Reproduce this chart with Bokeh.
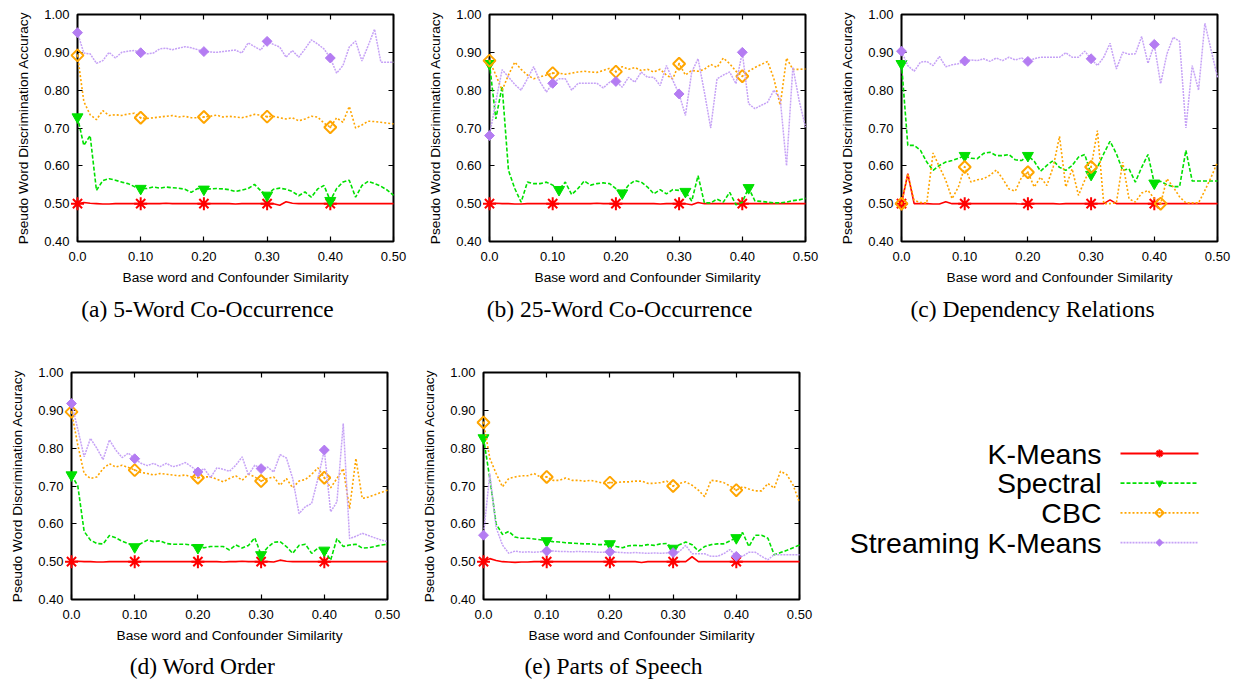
import math
from bokeh.plotting import figure
from bokeh.layouts import row, column
from bokeh.models import Range1d, FixedTicker, LinearAxis, CustomJSTickFormatter
from bokeh.core.properties import value
from bokeh.embed import file_html
from bokeh.resources import INLINE

# ---------------- data ----------------
X = [0.00, 0.01, 0.02, 0.03, 0.04, 0.05, 0.06, 0.07, 0.08, 0.09,
     0.10, 0.11, 0.12, 0.13, 0.14, 0.15, 0.16, 0.17, 0.18, 0.19,
     0.20, 0.21, 0.22, 0.23, 0.24, 0.25, 0.26, 0.27, 0.28, 0.29,
     0.30, 0.31, 0.32, 0.33, 0.34, 0.35, 0.36, 0.37, 0.38, 0.39,
     0.40, 0.41, 0.42, 0.43, 0.44, 0.45, 0.46, 0.47, 0.48, 0.49, 0.50]

X_TICKS = [0.0, 0.1, 0.2, 0.3, 0.4, 0.5]
X_TICK_LABELS = ["0.0", "0.10", "0.20", "0.30", "0.40", "0.50"]
Y_TICKS = [0.4, 0.5, 0.6, 0.7, 0.8, 0.9, 1.0]
Y_TICK_LABELS = ["0.40", "0.50", "0.60", "0.70", "0.80", "0.90", "1.00"]

SERIES = ["K-Means", "Spectral", "CBC", "Streaming K-Means"]
CAPTIONS = ["(a) 5-Word Co-Occurrence", "(b) 25-Word Co-Occurrence", "(c) Dependency Relations",
            "(d) Word Order", "(e) Parts of Speech"]
X_LABEL = "Base word and Confounder Similarity"
Y_LABEL = "Pseudo Word Discrimination Accuracy"

# (a) 5-Word Co-Occurrence
A_KM = [0.500, 0.503, 0.501, 0.500, 0.499, 0.499, 0.500, 0.500, 0.500, 0.500,
        0.500, 0.500, 0.500, 0.500, 0.501, 0.500, 0.500, 0.500, 0.500, 0.500,
        0.500, 0.500, 0.500, 0.500, 0.500, 0.499, 0.500, 0.500, 0.500, 0.500,
        0.500, 0.500, 0.496, 0.505, 0.501, 0.500, 0.500, 0.500, 0.500, 0.500,
        0.500, 0.500, 0.500, 0.500, 0.500, 0.500, 0.500, 0.500, 0.500, 0.500, 0.500]
A_SP = [0.729, 0.654, 0.680, 0.535, 0.561, 0.566, 0.562, 0.557, 0.553, 0.545,
        0.540, 0.540, 0.544, 0.541, 0.544, 0.542, 0.541, 0.538, 0.530, 0.540,
        0.538, 0.539, 0.540, 0.539, 0.537, 0.532, 0.536, 0.540, 0.551, 0.534,
        0.522, 0.538, 0.541, 0.538, 0.532, 0.521, 0.531, 0.517, 0.539, 0.548,
        0.508, 0.540, 0.557, 0.562, 0.517, 0.548, 0.559, 0.553, 0.546, 0.536, 0.522]
A_CBC = [0.892, 0.770, 0.735, 0.722, 0.746, 0.733, 0.735, 0.733, 0.737, 0.739,
         0.727, 0.725, 0.727, 0.729, 0.731, 0.733, 0.729, 0.731, 0.727, 0.727,
         0.729, 0.731, 0.734, 0.729, 0.731, 0.729, 0.727, 0.731, 0.736, 0.734,
         0.730, 0.731, 0.727, 0.724, 0.727, 0.719, 0.724, 0.731, 0.729, 0.713,
         0.702, 0.727, 0.715, 0.757, 0.700, 0.708, 0.718, 0.717, 0.715, 0.713, 0.711]
A_SKM = [0.952, 0.898, 0.896, 0.871, 0.878, 0.900, 0.885, 0.900, 0.903, 0.905,
         0.899, 0.896, 0.898, 0.909, 0.911, 0.907, 0.911, 0.915, 0.912, 0.907,
         0.902, 0.901, 0.900, 0.902, 0.904, 0.906, 0.898, 0.925, 0.915, 0.906,
         0.929, 0.921, 0.914, 0.887, 0.905, 0.887, 0.909, 0.933, 0.922, 0.909,
         0.885, 0.845, 0.865, 0.914, 0.930, 0.877, 0.918, 0.961, 0.874, 0.874, 0.874]

# (b) 25-Word Co-Occurrence
B_KM = [0.500, 0.501, 0.500, 0.500, 0.499, 0.499, 0.500, 0.500, 0.500, 0.500,
        0.500, 0.500, 0.500, 0.500, 0.500, 0.500, 0.500, 0.501, 0.500, 0.500,
        0.500, 0.500, 0.500, 0.500, 0.500, 0.500, 0.500, 0.499, 0.500, 0.500,
        0.500, 0.500, 0.497, 0.503, 0.500, 0.500, 0.500, 0.500, 0.500, 0.500,
        0.500, 0.500, 0.500, 0.500, 0.500, 0.500, 0.500, 0.500, 0.500, 0.500, 0.500]
B_SP = [0.870, 0.724, 0.810, 0.588, 0.540, 0.504, 0.557, 0.553, 0.553, 0.557,
        0.549, 0.537, 0.557, 0.524, 0.540, 0.560, 0.549, 0.553, 0.555, 0.553,
        0.540, 0.528, 0.549, 0.561, 0.557, 0.544, 0.526, 0.537, 0.526, 0.537,
        0.535, 0.532, 0.507, 0.574, 0.502, 0.502, 0.512, 0.504, 0.530, 0.497,
        0.504, 0.542, 0.507, 0.506, 0.504, 0.502, 0.502, 0.504, 0.508, 0.510, 0.514]
B_CBC = [0.878, 0.840, 0.800, 0.840, 0.874, 0.855, 0.840, 0.830, 0.835, 0.840,
         0.845, 0.845, 0.842, 0.845, 0.848, 0.850, 0.848, 0.847, 0.852, 0.858,
         0.849, 0.862, 0.855, 0.860, 0.852, 0.855, 0.848, 0.855, 0.840, 0.830,
         0.870, 0.840, 0.852, 0.850, 0.855, 0.868, 0.860, 0.885, 0.870, 0.850,
         0.837, 0.850, 0.860, 0.868, 0.876, 0.830, 0.760, 0.885, 0.855, 0.855, 0.856]
B_SKM = [0.680, 0.770, 0.854, 0.835, 0.815, 0.800, 0.830, 0.862, 0.822, 0.795,
         0.818, 0.830, 0.830, 0.800, 0.818, 0.818, 0.818, 0.818, 0.806, 0.821,
         0.823, 0.808, 0.834, 0.821, 0.848, 0.834, 0.834, 0.812, 0.865, 0.826,
         0.790, 0.733, 0.848, 0.883, 0.795, 0.700, 0.830, 0.840, 0.848, 0.817,
         0.900, 0.764, 0.751, 0.760, 0.768, 0.800, 0.777, 0.600, 0.861, 0.772, 0.702]

# (c) Dependency Relations
C_KM = [0.500, 0.579, 0.500, 0.500, 0.500, 0.499, 0.499, 0.505, 0.500, 0.500,
        0.500, 0.500, 0.500, 0.500, 0.500, 0.500, 0.500, 0.500, 0.500, 0.499,
        0.500, 0.500, 0.500, 0.500, 0.500, 0.499, 0.500, 0.500, 0.500, 0.500,
        0.500, 0.500, 0.500, 0.510, 0.500, 0.500, 0.500, 0.500, 0.500, 0.500,
        0.500, 0.500, 0.500, 0.500, 0.500, 0.500, 0.500, 0.500, 0.500, 0.500, 0.500]
C_SP = [0.870, 0.654, 0.654, 0.641, 0.610, 0.588, 0.601, 0.610, 0.614, 0.620,
        0.627, 0.620, 0.619, 0.633, 0.636, 0.627, 0.627, 0.630, 0.616, 0.614,
        0.627, 0.612, 0.586, 0.601, 0.614, 0.596, 0.588, 0.601, 0.623, 0.630,
        0.577, 0.596, 0.632, 0.665, 0.632, 0.588, 0.592, 0.557, 0.596, 0.630,
        0.554, 0.559, 0.550, 0.545, 0.545, 0.641, 0.560, 0.560, 0.560, 0.560, 0.560]
C_CBC = [0.500, 0.579, 0.509, 0.503, 0.502, 0.634, 0.597, 0.562, 0.513, 0.544,
         0.597, 0.557, 0.563, 0.566, 0.575, 0.589, 0.566, 0.539, 0.533, 0.570,
         0.583, 0.544, 0.570, 0.548, 0.597, 0.678, 0.544, 0.592, 0.522, 0.562,
         0.597, 0.693, 0.500, 0.500, 0.502, 0.610, 0.513, 0.504, 0.528, 0.535,
         0.513, 0.500, 0.566, 0.544, 0.518, 0.502, 0.502, 0.502, 0.535, 0.570, 0.610]
C_SKM = [0.903, 0.865, 0.850, 0.874, 0.876, 0.865, 0.889, 0.862, 0.867, 0.870,
         0.877, 0.880, 0.878, 0.883, 0.876, 0.885, 0.878, 0.887, 0.880, 0.885,
         0.876, 0.883, 0.887, 0.887, 0.887, 0.887, 0.899, 0.887, 0.887, 0.903,
         0.883, 0.865, 0.887, 0.924, 0.856, 0.900, 0.895, 0.896, 0.942, 0.871,
         0.921, 0.817, 0.896, 0.940, 0.929, 0.700, 0.865, 0.800, 0.977, 0.905, 0.834]

# (d) Word Order
D_KM = [0.500, 0.501, 0.500, 0.500, 0.499, 0.499, 0.500, 0.500, 0.500, 0.500,
        0.500, 0.500, 0.500, 0.500, 0.500, 0.500, 0.500, 0.500, 0.500, 0.500,
        0.500, 0.500, 0.500, 0.500, 0.499, 0.500, 0.500, 0.501, 0.500, 0.500,
        0.500, 0.500, 0.499, 0.504, 0.501, 0.500, 0.500, 0.500, 0.500, 0.500,
        0.500, 0.500, 0.500, 0.500, 0.500, 0.500, 0.500, 0.500, 0.500, 0.500, 0.500]
D_SP = [0.729, 0.700, 0.580, 0.557, 0.548, 0.547, 0.569, 0.563, 0.554, 0.548,
        0.539, 0.548, 0.557, 0.553, 0.555, 0.548, 0.546, 0.546, 0.546, 0.544,
        0.537, 0.537, 0.540, 0.540, 0.540, 0.531, 0.544, 0.536, 0.543, 0.563,
        0.518, 0.537, 0.551, 0.553, 0.540, 0.522, 0.543, 0.546, 0.522, 0.536,
        0.530, 0.504, 0.561, 0.540, 0.544, 0.546, 0.536, 0.537, 0.540, 0.544, 0.546]
D_CBC = [0.896, 0.808, 0.733, 0.720, 0.724, 0.746, 0.759, 0.750, 0.755, 0.749,
         0.742, 0.736, 0.733, 0.729, 0.733, 0.731, 0.729, 0.727, 0.729, 0.724,
         0.722, 0.724, 0.724, 0.718, 0.711, 0.720, 0.727, 0.715, 0.731, 0.724,
         0.713, 0.720, 0.724, 0.702, 0.720, 0.695, 0.713, 0.717, 0.731, 0.748,
         0.722, 0.695, 0.720, 0.746, 0.640, 0.773, 0.667, 0.671, 0.677, 0.683, 0.689]
D_SKM = [0.918, 0.850, 0.777, 0.826, 0.800, 0.770, 0.822, 0.795, 0.775, 0.787,
         0.772, 0.760, 0.754, 0.760, 0.751, 0.760, 0.751, 0.755, 0.762, 0.751,
         0.737, 0.746, 0.722, 0.748, 0.744, 0.739, 0.755, 0.777, 0.729, 0.755,
         0.746, 0.750, 0.737, 0.783, 0.774, 0.720, 0.627, 0.645, 0.654, 0.720,
         0.795, 0.632, 0.658, 0.865, 0.561, 0.567, 0.575, 0.569, 0.563, 0.557, 0.553]

# (e) Parts of Speech
E_KM = [0.500, 0.508, 0.503, 0.500, 0.499, 0.498, 0.499, 0.499, 0.500, 0.500,
        0.500, 0.500, 0.500, 0.500, 0.500, 0.500, 0.500, 0.500, 0.500, 0.500,
        0.500, 0.500, 0.500, 0.500, 0.500, 0.498, 0.500, 0.500, 0.500, 0.500,
        0.500, 0.500, 0.500, 0.513, 0.500, 0.500, 0.500, 0.500, 0.500, 0.500,
        0.500, 0.500, 0.500, 0.500, 0.500, 0.500, 0.500, 0.500, 0.500, 0.500, 0.500]
E_SP = [0.827, 0.720, 0.600, 0.572, 0.580, 0.565, 0.562, 0.562, 0.560, 0.558,
        0.555, 0.553, 0.552, 0.550, 0.549, 0.548, 0.547, 0.547, 0.545, 0.545,
        0.547, 0.540, 0.537, 0.542, 0.543, 0.542, 0.545, 0.543, 0.547, 0.548,
        0.535, 0.545, 0.552, 0.545, 0.528, 0.540, 0.545, 0.547, 0.547, 0.555,
        0.563, 0.577, 0.540, 0.570, 0.570, 0.562, 0.518, 0.524, 0.530, 0.537, 0.544]
E_CBC = [0.868, 0.773, 0.733, 0.698, 0.720, 0.724, 0.727, 0.727, 0.733, 0.724,
         0.724, 0.715, 0.715, 0.721, 0.715, 0.715, 0.713, 0.715, 0.711, 0.707,
         0.709, 0.709, 0.711, 0.711, 0.713, 0.713, 0.707, 0.707, 0.709, 0.713,
         0.700, 0.707, 0.711, 0.702, 0.689, 0.672, 0.715, 0.713, 0.709, 0.700,
         0.689, 0.698, 0.692, 0.687, 0.687, 0.707, 0.694, 0.739, 0.730, 0.702, 0.656]
E_SKM = [0.570, 0.733, 0.590, 0.544, 0.522, 0.528, 0.525, 0.526, 0.525, 0.526,
         0.528, 0.528, 0.527, 0.527, 0.526, 0.527, 0.526, 0.526, 0.525, 0.525,
         0.526, 0.525, 0.524, 0.523, 0.524, 0.523, 0.522, 0.523, 0.522, 0.523,
         0.524, 0.527, 0.543, 0.521, 0.521, 0.521, 0.514, 0.514, 0.521, 0.532,
         0.514, 0.514, 0.525, 0.525, 0.514, 0.505, 0.519, 0.518, 0.518, 0.518, 0.518]

# indices of the data points that carry a point symbol
PTS = [0, 10, 20, 30, 40]
PTS_B_SP = [0, 11, 21, 31, 41]
PTS_C_CBC = [0, 10, 20, 30, 41]

PANELS = [
    [(A_KM, PTS), (A_SP, PTS), (A_CBC, PTS), (A_SKM, PTS)],
    [(B_KM, PTS), (B_SP, PTS_B_SP), (B_CBC, PTS), (B_SKM, PTS)],
    [(C_KM, PTS), (C_SP, PTS), (C_CBC, PTS_C_CBC), (C_SKM, PTS)],
    [(D_KM, PTS), (D_SP, PTS), (D_CBC, PTS), (D_SKM, PTS)],
    [(E_KM, PTS), (E_SP, PTS), (E_CBC, PTS), (E_SKM, PTS)],
]

# ---------------- styles ----------------
STYLES = [
    dict(line_color="#ff0000", line_dash="solid", line_width=1.6,
         marker="asterisk", size=13, mline="#ff0000", mfill=None, mlw=2.0, angle=0.0, lsize=8),
    dict(line_color="#00e000", line_dash="4 2", line_width=1.6,
         marker="inverted_triangle", size=11, mline="#00e000", mfill="#00e000", mlw=1.0, angle=0.0, lsize=7),
    dict(line_color="#ffa500", line_dash="2 2", line_width=1.6,
         marker="square_dot", size=8.5, mline="#ffa500", mfill=None, mlw=2.0, angle=math.pi / 4, lsize=6),
    dict(line_color="#c6a2f6", line_dash="2 1", line_width=1.5,
         marker="square", size=7, mline="#b47cf2", mfill="#b47cf2", mlw=1.0, angle=math.pi / 4, lsize=5),
]

SANS = "Liberation Sans"
SERIF = "Liberation Serif"


def tick_formatter(tick_values, tick_labels):
    return CustomJSTickFormatter(
        args=dict(tv=tick_values, tl=tick_labels),
        code="const i = tv.findIndex(t => Math.abs(t - tick) < 1e-9); return i >= 0 ? tl[i] : '';")


def mirror_axis(tick_values):
    return LinearAxis(ticker=FixedTicker(ticks=tick_values), major_tick_in=5, major_tick_out=0,
                      major_tick_line_color="black", major_tick_line_width=1.2,
                      minor_tick_line_color=None, axis_line_color=None,
                      major_label_text_font_size="1px", major_label_text_color=None,
                      major_label_standoff=0)


def make_panel(k, width, height, left, right, top, bottom, cap_dx, cap_dy):
    p = figure(width=width, height=height, x_range=Range1d(0, 0.5), y_range=Range1d(0.4, 1.0),
               output_backend="svg", toolbar_location=None,
               min_border_left=left, min_border_right=right, min_border_top=top, min_border_bottom=bottom)
    p.grid.visible = False
    p.outline_line_color = "black"
    p.outline_line_width = 2
    p.background_fill_color = "white"
    p.border_fill_color = "white"

    for ax, tv, tl, lab in ((p.xaxis[0], X_TICKS, X_TICK_LABELS, X_LABEL),
                            (p.yaxis[0], Y_TICKS, Y_TICK_LABELS, Y_LABEL)):
        ax.ticker = FixedTicker(ticks=tv)
        ax.formatter = tick_formatter(tv, tl)
        ax.major_tick_in = 5
        ax.major_tick_out = 0
        ax.major_tick_line_color = "black"
        ax.major_tick_line_width = 1.2
        ax.minor_tick_line_color = None
        ax.axis_line_color = None
        ax.major_label_text_font = SANS
        ax.major_label_text_font_size = "13px"
        ax.major_label_text_color = "black"
        ax.axis_label = lab
        ax.axis_label_text_font = SANS
        ax.axis_label_text_font_size = "13.7px"
        ax.axis_label_text_font_style = "normal"
        ax.axis_label_text_color = "black"
    p.xaxis.major_label_standoff = 10
    p.xaxis.axis_label_standoff = 6
    p.yaxis.major_label_standoff = 8
    p.yaxis.axis_label_standoff = 10

    p.add_layout(mirror_axis(X_TICKS), "above")
    p.add_layout(mirror_axis(Y_TICKS), "right")

    for (vals, pts), st in zip(PANELS[k], STYLES):
        p.line(X, vals, line_color=st["line_color"], line_dash=st["line_dash"],
               line_width=st["line_width"], level="overlay")
        p.scatter([X[i] for i in pts], [vals[i] for i in pts], marker=st["marker"], size=st["size"],
                  angle=st["angle"], line_color=st["mline"], fill_color=st["mfill"],
                  line_width=st["mlw"], level="overlay")

    # sub-figure caption, placed under the x axis (overlay level: not clipped to the frame)
    p.text(x=[0.25], y=[0.4], text=[CAPTIONS[k]], x_offset=cap_dx, y_offset=cap_dy,
           text_align="center", text_baseline="alphabetic",
           text_font=value(SERIF), text_font_size="23.5px", text_color="black", level="overlay")
    return p


# top row: frames at x 77/489/901, y 14..241
pa = make_panel(0, 412, 330, 77, 19, 14, 89, -28, 67)
pb = make_panel(1, 412, 330, 77, 19, 14, 89, -28, 67)
pc = make_panel(2, 410, 330, 77, 17, 14, 89, -27, 67)
# bottom row: frames at x 71/483, y 372..599
pd = make_panel(3, 412, 349, 71, 25, 42, 80, -27, 66)
pe = make_panel(4, 412, 349, 71, 25, 42, 80, -28, 66)

# legend panel (drawn by hand: label right-aligned, sample to the right).
# Its frame is aligned with the neighbouring panels (rows 42..269 of the row), so the
# ranges are given in row pixels.
LW = 410
pl = figure(width=LW, height=349, x_range=Range1d(0, LW), y_range=Range1d(269, 42),
            output_backend="svg", toolbar_location=None, x_axis_type=None, y_axis_type=None,
            min_border_left=0, min_border_right=0, min_border_top=42, min_border_bottom=80)
pl.grid.visible = False
pl.outline_line_color = None
row_y = [123 + 29.7 * i for i in range(len(SERIES))]
pl.text(x=[277] * len(SERIES), y=row_y, text=SERIES, text_align="right", text_baseline="middle",
        text_font=value(SANS), text_font_size="28.5px", text_color="black")
for yy, st in zip(row_y, STYLES):
    pl.line([296, 374], [yy, yy], line_color=st["line_color"], line_dash=st["line_dash"],
            line_width=2 if st["line_dash"] == "solid" else 1.8)
    pl.scatter([335], [yy], marker=st["marker"], size=st["lsize"], angle=st["angle"],
               line_color=st["mline"], fill_color=st["mfill"], line_width=st["mlw"])

layout = column(row(pa, pb, pc), row(pd, pe, pl))

open("out.html", "w").write(file_html(layout, INLINE))
